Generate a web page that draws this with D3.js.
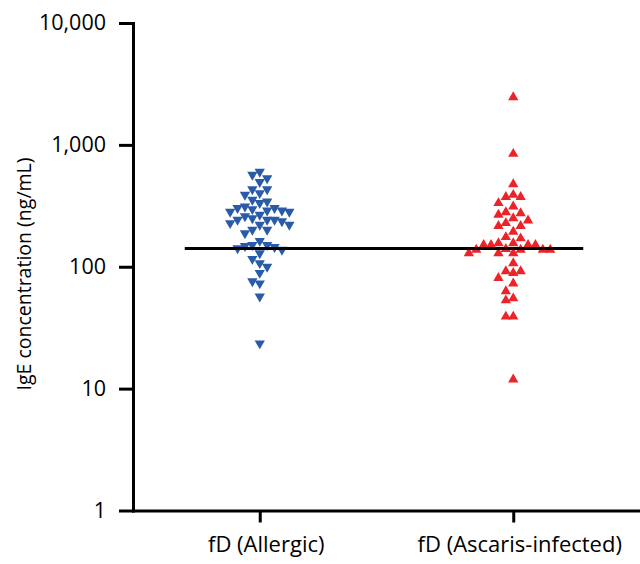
<!DOCTYPE html>
<html>
<head>
<meta charset="utf-8">
<script src="https://cdn.jsdelivr.net/npm/d3@7"></script>
<style>
  body { margin: 0; background: #fff; }
  svg { display: block; }
</style>
</head>
<body>
<svg id="chart" width="640" height="564"></svg>
<script>
const groups = ["fD (Allergic)", "fD (Ascaris-infected)"];

// IgE concentration (ng/mL)
const allergic = [601, 568, 533, 495, 433, 433, 402, 389, 354, 343, 333, 312, 303, 303, 297,
  289, 289, 283, 283, 267, 260, 250, 243, 243, 243, 236, 228, 221, 221, 201, 201, 188,
  163, 151, 151, 148, 145, 142, 138, 129, 116, 107, 100, 89, 76, 73, 57, 23.5];
const ascaris = [2460, 844, 476, 389, 373, 373, 333, 312, 280, 275, 267, 250, 240, 228, 216,
  216, 194, 175, 171, 156, 156, 151, 151, 151, 151, 140, 138, 138, 138, 138, 129, 129,
  129, 107, 92, 92, 89, 81, 73, 63, 55, 53, 39, 39, 11.9];
const refValue = 141;
const yTicks = [1, 10, 100, 1000, 10000];

const MARGIN = { top: 23, right: 0, bottom: 53, left: 133 };
const width = 640, height = 564;

const svg = d3.select("#chart");

const x = d3.scalePoint()
  .domain(groups)
  .range([MARGIN.left, width - MARGIN.right])
  .padding(0.5);

const y = d3.scaleLog()
  .domain([1, 10000])
  .range([height - MARGIN.bottom - 0.5, MARGIN.top]);

const fmt = d3.format(",");

// y axis
const yAxis = svg.append("g")
  .attr("transform", "translate(" + MARGIN.left + ",0)")
  .call(d3.axisLeft(y).tickValues(yTicks).tickFormat(fmt).tickSize(14).tickSizeOuter(0).tickPadding(13));
yAxis.selectAll("line").attr("stroke-width", 3);
yAxis.select(".domain").attr("stroke-width", 3).attr("stroke-linecap", "square");
yAxis.selectAll("text")
  .style("font-family", "'Open Sans', sans-serif")
  .style("font-size", "21.5px")
  .attr("fill", "#000");

// x axis
const xAxis = svg.append("g")
  .attr("transform", "translate(0," + y(1) + ")")
  .call(d3.axisBottom(x).tickSize(12).tickSizeOuter(0).tickPadding(14));
xAxis.selectAll("line").attr("stroke-width", 3);
xAxis.select(".domain").attr("stroke-width", 3).attr("stroke-linecap", "square");
xAxis.selectAll("text")
  .attr("dx", 6)
  .style("font-family", "'Open Sans', sans-serif")
  .style("font-size", "22px")
  .attr("fill", "#000");

// y title
svg.append("text")
  .attr("transform", "translate(23," + 274 + ") rotate(-90)")
  .attr("text-anchor", "middle")
  .attr("dominant-baseline", "central")
  .style("font-family", "'Open Sans', sans-serif")
  .style("font-size", "19.5px")
  .text("IgE concentration (ng/mL)");

// column scatter: each point takes the nearest free column slot
function swarm(values, cx) {
  const step = 7.4, minDy = 9;
  const placed = [];
  const sorted = values.slice().sort((a, b) => b - a);
  sorted.forEach(function(v) {
    const py = y(v);
    for (let i = 0; i < 30; i++) {
      const k = i === 0 ? 0 : (i % 2 ? -Math.ceil(i / 2) : Math.ceil(i / 2));
      const clash = placed.some(p => p.k === k && Math.abs(p.py - py) < minDy);
      if (!clash) { placed.push({ v: v, k: k, py: py }); break; }
    }
  });
  return placed.map(p => ({ v: p.v, px: cx + p.k * step }));
}

const tri = d3.symbol().type(d3.symbolTriangle).size(46);

svg.append("g")
  .selectAll("path")
  .data(swarm(allergic, x(groups[0])))
  .join("path")
  .attr("d", tri)
  .attr("transform", d => "translate(" + d.px + "," + y(d.v) + ") rotate(180)")
  .attr("fill", "#2a5ba9");

svg.append("g")
  .selectAll("path")
  .data(swarm(ascaris, x(groups[1])))
  .join("path")
  .attr("d", tri)
  .attr("transform", d => "translate(" + d.px + "," + y(d.v) + ")")
  .attr("fill", "#ec2328");

// reference line across both groups
svg.append("line")
  .attr("x1", x(groups[0]) - 75)
  .attr("x2", x(groups[1]) + 70)
  .attr("y1", y(refValue))
  .attr("y2", y(refValue))
  .attr("stroke", "#000")
  .attr("stroke-width", 3);
</script>
</body>
</html>
